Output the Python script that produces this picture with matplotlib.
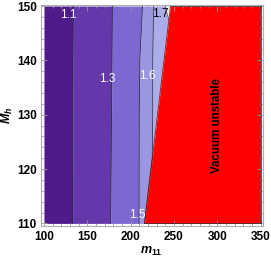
import numpy as np
import matplotlib
matplotlib.use("Agg")
import matplotlib.pyplot as plt
from matplotlib.ticker import MultipleLocator

plt.rcParams["font.family"] = ["Liberation Sans", "DejaVu Sans"]
plt.rcParams["mathtext.fontset"] = "custom"
plt.rcParams["mathtext.rm"] = "Liberation Sans:bold"
plt.rcParams["mathtext.it"] = "Liberation Sans:bold:italic"

# contour boundaries: m11 position of each level line at the given M_h values
mh = np.array([110, 122, 130, 140, 150])
c11 = np.array([133.0, 133.2, 133.3, 133.5, 134.0])
c13 = np.array([177.0, 177.6, 178.0, 178.5, 179.0])
c15 = np.array([209.8, 209.9, 210.0, 210.6, 213.7])
c16 = np.array([225.5, 225.5, 225.5, 225.5, 226.7])
vac = np.array([216.0, 225.0, 231.0, 238.5, 246.0])   # vacuum-stability edge
mh17 = np.array([147.5, 150])
c17 = np.array([244.1, 239.5])
vac17 = np.array([244.1, 246.0])

X0, X1 = 100, 350
labels = [("1.1", 127.6, 148.3, "white"), ("1.3", 173.0, 136.6, "white"),
          ("1.6", 219.8, 137.1, "white"), ("1.5", 207.7, 111.6, "white"),
          ("1.7", 234.8, 148.6, "black")]

COLS = ["#4f1a8a", "#6438ab", "#7d68d2", "#9a96e2", "#aaade8", "#f1ead6"]
LINE = "#2a2a3a"

fig = plt.figure(figsize=(2.71, 2.59), dpi=100)
ax = fig.add_axes([0.151, 0.129, 0.818, 0.852])

ax.fill_betweenx(mh, X0, c11, color=COLS[0], lw=0)
ax.fill_betweenx(mh, c11, c13, color=COLS[1], lw=0)
ax.fill_betweenx(mh, c13, c15, color=COLS[2], lw=0)
ax.fill_betweenx(mh, c15, np.minimum(c16, vac), color=COLS[3], lw=0)
ax.fill_betweenx(mh, np.minimum(c16, vac), vac, color=COLS[4], lw=0)
ax.fill_betweenx(mh17, c17, vac17, color=COLS[5], lw=0)
ax.fill_betweenx(mh, vac, X1, color="#ff0000", lw=0)

for c in (c11, c13, c15, np.minimum(c16, vac), vac):
    ax.plot(c, mh, color=LINE, lw=0.6, alpha=0.85)
ax.plot(c17, mh17, color=LINE, lw=0.5, alpha=0.7)
ax.plot([vac[-1], X1, X1], [150, 150, 110], color=LINE, lw=0.6, alpha=0.85)
ax.plot([vac[0], X1], [110, 110], color=LINE, lw=0.6, alpha=0.85)

for txt, x, y, col in labels:
    ax.text(x, y, txt, color=col, fontsize=8.5, ha="center", va="center")
ax.text(300, 128.1, "Vacuum unstable", rotation=90, fontsize=8.3,
        fontweight="bold", ha="center", va="center")

ax.set_xlim(96.5, 352.3)
ax.set_ylim(109.6, 150.2)
ax.xaxis.set_major_locator(MultipleLocator(50))
ax.xaxis.set_minor_locator(MultipleLocator(10))
ax.yaxis.set_major_locator(MultipleLocator(10))
ax.yaxis.set_minor_locator(MultipleLocator(2))
ax.tick_params(which="both", direction="in", top=True, right=True,
               color="#9a9a9a", width=0.6)
ax.tick_params(which="major", length=4)
ax.tick_params(which="minor", length=2)
ax.tick_params(axis="x", pad=4)
ax.tick_params(axis="y", pad=3)
for lab in ax.get_xticklabels() + ax.get_yticklabels():
    lab.set_fontweight("bold")
    lab.set_fontsize(8.5)
for sp in ax.spines.values():
    sp.set_color("#b0b0b0")
    sp.set_linewidth(0.8)

ax.set_xlabel("$m_{11}$", fontsize=9, labelpad=1)
ax.set_ylabel("$M_h$", fontsize=9, labelpad=1)

fig.savefig("out.png", dpi=100, facecolor="white")
